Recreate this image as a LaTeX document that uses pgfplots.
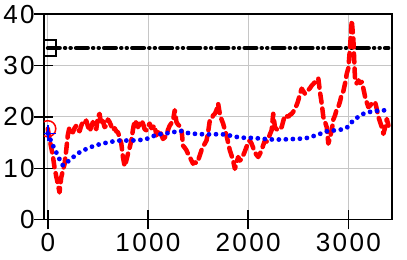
\documentclass[border=0pt]{standalone}
\usepackage{fontspec}
\setmainfont{Liberation Sans}[LetterSpace=9]
\usepackage{pgfplots}
\pgfplotsset{compat=1.18}

\pgfplotstableread{
x y
0 17.7
17 15.7
34 14.1
50 12.5
67 10.2
84 8.5
100 7.0
117 5.3
134 8.2
150 9.5
167 10.8
184 13.5
200 16.5
217 18.0
234 17.2
250 17.0
267 17.8
284 18.3
300 17.6
317 17.2
334 18.3
350 19.0
367 18.7
384 19.3
400 18.2
417 17.2
434 18.0
450 19.0
467 18.2
484 17.6
500 20.0
517 20.6
534 18.5
550 19.2
567 18.0
584 18.3
600 19.5
617 19.0
634 18.2
650 17.4
667 17.8
684 17.2
700 17.0
717 16.0
734 14.8
750 12.2
767 10.4
784 11.5
800 12.8
817 14.0
834 15.4
850 17.5
867 19.3
884 18.8
900 18.0
917 18.6
934 19.3
950 18.7
967 17.6
984 17.4
1000 18.2
1017 18.7
1034 17.8
1050 18.0
1067 18.3
1084 16.4
1100 17.0
1117 17.4
1134 16.5
1150 15.7
1167 16.0
1184 16.4
1200 17.5
1217 18.3
1234 18.8
1250 19.3
1267 21.3
1284 19.0
1300 18.5
1317 18.2
1334 17.7
1350 14.4
1367 14.0
1384 13.5
1400 12.8
1417 12.2
1434 11.5
1450 10.9
1467 11.2
1484 11.0
1500 11.5
1517 12.5
1534 13.5
1550 14.2
1567 14.8
1584 15.4
1600 17.0
1617 19.3
1634 19.5
1650 20.3
1667 20.6
1684 21.3
1700 22.6
1717 20.6
1734 19.5
1750 18.7
1767 17.5
1784 16.4
1800 15.0
1817 13.5
1834 12.5
1850 11.5
1867 9.9
1884 11.0
1900 12.2
1917 11.5
1934 11.8
1950 12.5
1967 13.3
1984 14.2
2000 15.1
2017 15.4
2034 14.8
2050 14.0
2067 13.1
2084 12.6
2100 12.2
2117 12.8
2134 13.5
2150 14.5
2167 15.4
2184 15.2
2200 15.7
2217 16.6
2234 17.4
2250 20.6
2267 18.0
2284 17.6
2300 17.4
2317 17.8
2334 18.0
2350 19.2
2367 20.3
2384 20.2
2400 20.0
2417 20.4
2434 20.6
2450 21.0
2467 21.6
2484 22.3
2500 23.2
2517 24.5
2534 25.5
2550 25.0
2567 24.5
2584 24.8
2600 25.2
2617 25.6
2634 26.1
2650 26.4
2667 26.8
2684 27.2
2700 27.5
2717 24.8
2734 22.6
2750 20.0
2767 19.0
2784 18.0
2800 14.8
2817 16.0
2834 17.4
2850 19.5
2867 20.3
2884 21.5
2900 22.0
2917 23.0
2934 24.5
2950 25.0
2967 26.5
2984 28.4
3000 29.5
3017 33.6
3034 38.8
3050 35.0
3067 27.0
3084 26.5
3100 27.1
3117 26.6
3134 26.8
3150 25.5
3167 23.9
3184 22.8
3200 21.9
3217 22.2
3234 22.6
3250 22.7
3267 22.9
3284 21.5
3300 20.0
3317 19.0
3334 18.0
3350 16.7
3367 18.0
3384 19.6
3400 18.3
}\redseries

\pgfplotstableread{
x y
0 16.8
50 14.5
100 12.5
150 10.6
200 11.3
317 13.1
467 14.4
617 15.1
717 15.4
817 15.4
917 15.5
1000 15.8
1084 16.5
1250 17.0
1317 17.3
1417 16.8
1584 16.6
1750 16.6
1917 16.0
2050 15.9
2250 15.6
2450 15.7
2584 15.9
2717 16.7
2784 17.2
2917 17.5
2984 17.9
3050 19.3
3150 20.6
3250 21.1
3384 21.3
3400 21.2
}\blueseries

\begin{document}
\begin{tikzpicture}
\begin{axis}[
    scale only axis,
    width=347pt, height=205pt,
    xmin=-40, xmax=3435,
    ymin=0, ymax=40,
    xtick={0,1000,2000,3000},
    ytick={0,10,20,30,40},
    xtick pos=left, ytick pos=left,
    tick align=center,
    major tick length=19pt,
    scaled ticks=false,
    /pgf/number format/1000 sep={},
    /pgf/number format/assume math mode=true,
    tick label style={font=\fontsize{26}{26}\selectfont},
    yticklabel style={xshift=4pt},
    xticklabel style={yshift=0pt},
    major tick style={draw=black, line width=1.5pt},
    axis line style={line width=1.5pt},
    grid=major,
    major grid style={gray!45, line width=0.9pt},
    clip marker paths=true,
]
\addplot[black, line width=4pt, line cap=round,
    dash pattern=on 12pt off 5pt on 0.5pt off 5pt on 0.5pt off 5pt]
    coordinates {(0,33.4) (3400,33.4)};
\addplot[only marks, mark=square, mark size=8pt, black, line width=1.5pt]
    coordinates {(0,33.4)};
\addplot[red, line width=4.5pt, line cap=round, line join=round,
    dash pattern=on 9pt off 6pt] table[x=x, y=y] {\redseries};
\addplot[only marks, mark=o, mark size=8pt, red, line width=1.5pt]
    coordinates {(0,17.7)};
\addplot[blue, line width=4.8pt, line cap=round, smooth,
    dash pattern=on 0pt off 7pt] table[x=x, y=y] {\blueseries};
\addplot[only marks, mark=+, mark size=8pt, blue, line width=1.5pt]
    coordinates {(0,16.8)};
\end{axis}
\path ([xshift=15pt, yshift=14pt]current axis.north east);
\path ([yshift=-40pt]current axis.south east);
\end{tikzpicture}
\end{document}
